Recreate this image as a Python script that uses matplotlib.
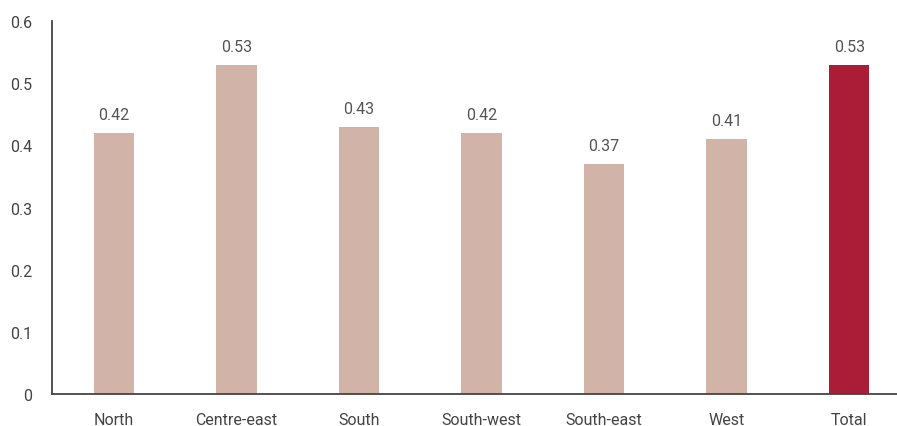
import matplotlib.pyplot as plt
import numpy as np

plt.rcParams['font.family'] = ['Roboto', 'DejaVu Sans']

regions = ['North', 'Centre-east', 'South', 'South-west', 'South-east', 'West', 'Total']
values = [0.42, 0.53, 0.43, 0.42, 0.37, 0.41, 0.53]
colors = ['#d1b3a8'] * 6 + ['#ab1c36']

fig = plt.figure(figsize=(8.97, 4.27), dpi=100)
ax = fig.add_axes([0.058, 0.075, 0.942, 0.873])

x = np.arange(len(regions))
bars = ax.bar(x, values, width=0.33, color=colors)
for xi, v in zip(x, values):
    ax.text(xi, v + 0.018, f'{v:.2f}', ha='center', va='bottom', fontsize=11.5, color='#555555')

ax.set_xlim(-0.506, 6.39)
ax.set_ylim(0, 0.6)
ax.set_yticks([0, 0.1, 0.2, 0.3, 0.4, 0.5, 0.6])
ax.set_yticklabels(['0', '0.1', '0.2', '0.3', '0.4', '0.5', '0.6'])
ax.set_xticks(x)
ax.set_xticklabels(regions)
ax.tick_params(axis='both', length=0, labelsize=11.5, labelcolor='#444444')
ax.tick_params(axis='x', pad=13)
ax.tick_params(axis='y', pad=14)
for s in ['top', 'right']:
    ax.spines[s].set_visible(False)
for s in ['left', 'bottom']:
    ax.spines[s].set_color('#444444')
    ax.spines[s].set_linewidth(1.3)

fig.savefig('out.png', dpi=100)
